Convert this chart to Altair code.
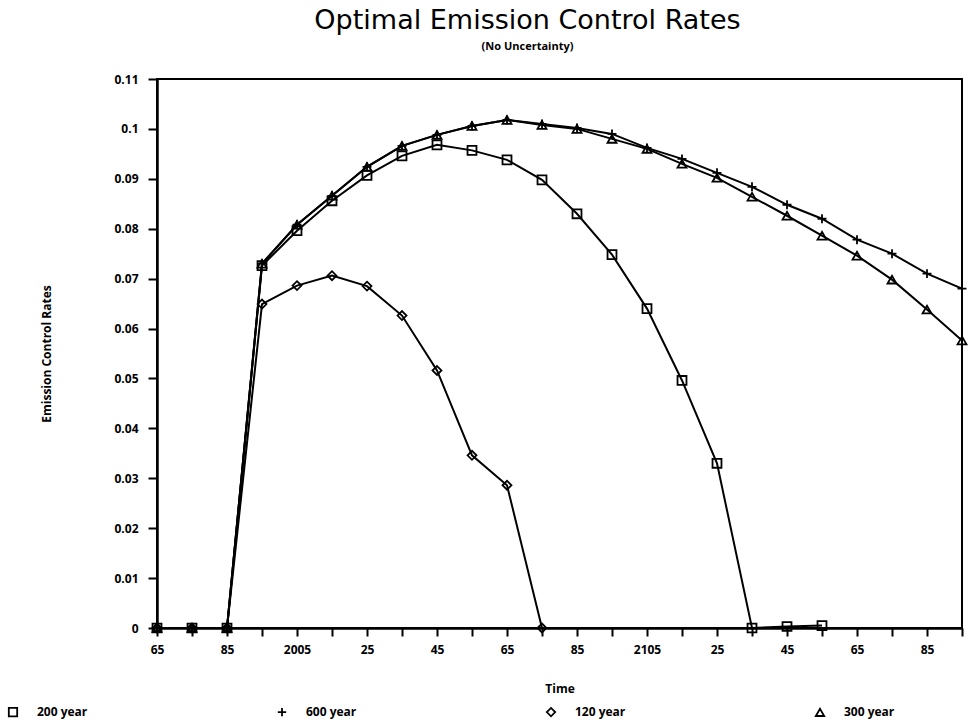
import altair as alt
import pandas as pd

# ---- data ----
years = [1965, 1975, 1985, 1995, 2005, 2015, 2025, 2035, 2045, 2055, 2065, 2075,
         2085, 2095, 2105, 2115, 2125, 2135, 2145, 2155, 2165, 2175, 2185, 2195]

series_names = ["200 year", "600 year", "120 year", "300 year"]

s200 = [0, 0, 0, 0.0726, 0.0796, 0.0856, 0.0907, 0.0946, 0.0968, 0.0957, 0.0938, 0.0898,
        0.0830, 0.0748, 0.0640, 0.0496, 0.0330, 0, 0.0003, 0.0005]
s600 = [0, 0, 0, 0.0730, 0.0808, 0.0866, 0.0924, 0.0966, 0.0988, 0.1006, 0.1018, 0.1010,
        0.1002, 0.0990, 0.0962, 0.0940, 0.0912, 0.0884, 0.0848, 0.0820, 0.0778, 0.0750,
        0.0710, 0.0680]
s120 = [0, 0, 0, 0.0649, 0.0686, 0.0706, 0.0685, 0.0626, 0.0516, 0.0346, 0.0286, 0]
s300 = [0, 0, 0, 0.0730, 0.0808, 0.0866, 0.0924, 0.0966, 0.0988, 0.1006, 0.1018, 0.1008,
        0.1000, 0.0980, 0.0960, 0.0930, 0.0902, 0.0864, 0.0826, 0.0786, 0.0746, 0.0698,
        0.0638, 0.0576]

x_ticks = years
y_ticks = [0, 0.01, 0.02, 0.03, 0.04, 0.05, 0.06, 0.07, 0.08, 0.09, 0.10, 0.11]

rows = []
for name, vals in zip(series_names, [s200, s600, s120, s300]):
    for yr, v in zip(years, vals):
        rows.append({"year": yr, "rate": v, "series": name})
df = pd.DataFrame(rows)

plus_path = "M-1,0H1M0,-1V1"

x_enc = alt.X(
    "year:Q",
    scale=alt.Scale(domain=[1965, 2195], nice=False, zero=False),
    axis=alt.Axis(
        title="Time",
        values=x_ticks,
        labelExpr="datum.value % 20 == 5 ? ((datum.value == 2005 || datum.value == 2105) ? toString(datum.value) : toString(datum.value % 100)) : ''",
        tickSize=8,
        labelPadding=8,
        titlePadding=28,
        labelFlush=False,
    ),
)
y_enc = alt.Y(
    "rate:Q",
    scale=alt.Scale(domain=[0, 0.11], nice=False),
    axis=alt.Axis(
        title="Emission Control Rates",
        values=y_ticks,
        labelExpr="format(datum.value, '.2~f')",
        tickSize=9,
        labelPadding=10,
        titlePadding=60,
    ),
)

lines = alt.Chart(df).mark_line(color="black", strokeWidth=2).encode(
    x=x_enc, y=y_enc, detail="series:N"
)

points = alt.Chart(df).mark_point(
    filled=False, color="black", strokeWidth=1.8, size=80, opacity=1
).encode(
    x=x_enc,
    y=y_enc,
    shape=alt.Shape(
        "series:N",
        scale=alt.Scale(domain=series_names,
                        range=["square", plus_path, "diamond", "triangle-up"]),
        legend=alt.Legend(
            title=None,
            orient="none",
            legendX=-150,
            legendY=627,
            direction="horizontal",
            columnPadding=186,
            labelFont="Open Sans",
            labelFontWeight="bold",
            labelFontSize=12,
            labelColor="black",
            labelOffset=18,
            symbolStrokeColor="black",
            symbolFillColor="transparent",
            symbolStrokeWidth=1.8,
            symbolSize=70,
        ),
    ),
)

chart = (
    alt.layer(lines, points)
    .properties(
        width=805,
        height=549,
        autosize=alt.AutoSizeParams(type="none"),
        padding={"left": 157, "top": 79, "right": 11, "bottom": 94},
        title=alt.TitleParams(
            text="Optimal Emission Control Rates",
            subtitle="(No Uncertainty)",
            font="DejaVu Sans",
            fontSize=27,
            fontWeight="normal",
            color="black",
            subtitleFont="Open Sans",
            subtitleFontWeight="bold",
            subtitleFontSize=11,
            subtitleColor="black",
            subtitlePadding=6,
            anchor="middle",
            dx=-32,
            offset=20,
        ),
    )
    .configure(background="white")
    .configure_view(stroke="black", strokeWidth=2)
    .configure_axis(
        grid=False,
        domainColor="black",
        domainWidth=2.5,
        tickColor="black",
        tickWidth=2,
        labelFont="Open Sans",
        labelFontWeight="bold",
        labelFontSize=12,
        labelColor="black",
        titleFont="Open Sans",
        titleFontWeight="bold",
        titleFontSize=12,
        titleColor="black",
    )
)

chart.save("out.html", embed_options={"renderer": "svg", "actions": False})
